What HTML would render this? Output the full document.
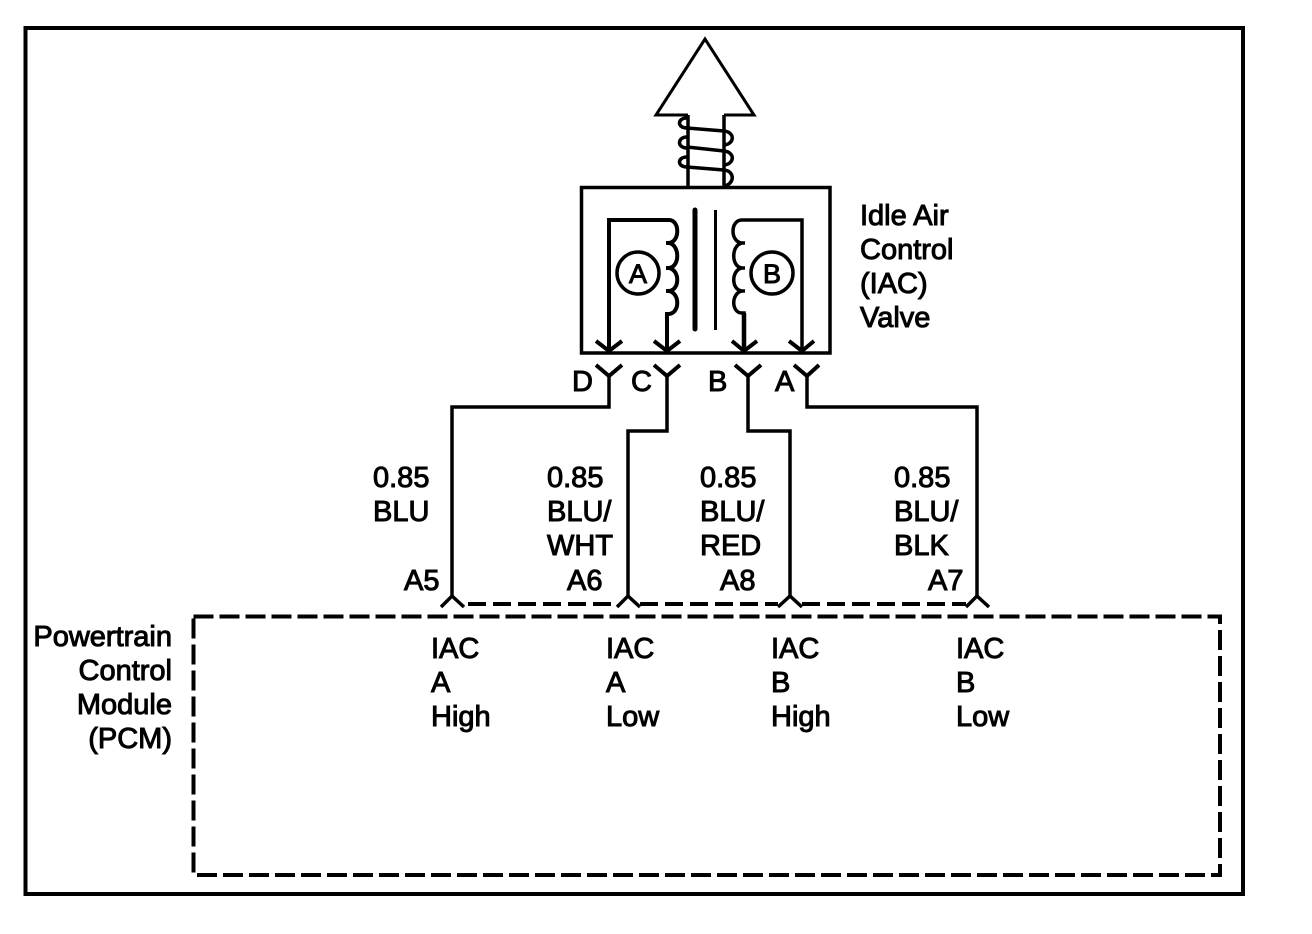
<!DOCTYPE html>
<html><head><meta charset="utf-8"><style>
html,body{margin:0;padding:0;background:#fff;width:1312px;height:934px;overflow:hidden}
svg{display:block}
text{font-family:"Liberation Sans",sans-serif;font-size:29px;fill:#000;stroke:#000;stroke-width:1px}
.e{text-anchor:end}
</style></head><body>
<svg width="1312" height="934" viewBox="0 0 1312 934" xmlns="http://www.w3.org/2000/svg">
<g fill="none" stroke="#000" stroke-width="3">
<rect x="25.5" y="28" width="1217.5" height="866" stroke-width="4"/>
<!-- plunger -->
<path d="M688 115H656L705 39L754 115H724" stroke-width="3"/>
<path d="M688 115V187M724 115V187" stroke-width="3.500"/>
<g stroke-width="3.500">
<path d="M687 118c-10 0-10 10 0 10M687 137c-10 0-10 11 0 11M687 157c-10 0-10 10 0 10"/>
<path d="M687 128L724 131c11 1 11 13 0 14M687 147L724 151c11 1 11 13 0 14M687 167L724 170c11 1 11 14 0 16"/>
</g>
<!-- box -->
<rect x="581.5" y="187.5" width="248.5" height="165.5" stroke-width="3.500"/>
<!-- left coil -->
<path d="M609 353V220H669c11 0 11 22 0 23H666M669 243c11 2 11 24 0 25H666M669 268c11 2 11 22 0 23H666M669 291c11 2 11 22 0 23H667V353" stroke-width="4"/>
<!-- right coil -->
<path d="M802 353V220H742c-12 0-12 22 0 23h3M742 243c-11 2-11 24 0 25h3M742 268c-11 2-11 22 0 23h3M742 291c-11 2-11 22 0 22h2V353" stroke-width="3.500"/>
<path d="M744 313V353" stroke-width="4.500"/>
<path d="M695 210V329" stroke-width="5" stroke-linecap="round"/>
<path d="M715.500 210V330" stroke-width="3"/>
<circle cx="638" cy="273" r="21" stroke-width="3.500"/>
<circle cx="772" cy="273" r="21" stroke-width="3.500"/>
<!-- arrow heads in box -->
<g stroke-width="4">
<path d="M596 341L609 351L622 341"/>
<path d="M654 341L667 351L680 341"/>
<path d="M732 341L744 351L757 341"/>
<path d="M789 341L802 351L814 341"/>
<!-- connector Ys -->
<path d="M596 365L609 376L622 365"/>
<path d="M654 365L667 376L680 365"/>
<path d="M735 365L748 376L761 365"/>
<path d="M794 365L807 376L819 365"/>
</g>
<!-- wires -->
<path d="M609 376V407H452V596" stroke-width="3.500"/>
<path d="M667 376V431H628V596" stroke-width="3.500"/>
<path d="M748 376V431H790V596" stroke-width="3.500"/>
<path d="M807 376V407H977V596" stroke-width="3.500"/>
<!-- lower forks -->
<g stroke-width="3.500">
<path d="M441 607L452 596L464 607"/>
<path d="M617 607L628 596L640 607"/>
<path d="M778 607L790 596L802 607"/>
<path d="M966 607L977 596L989 607"/>
</g>
<!-- connector dashes -->
<path d="M468 604H617M640 604H778M802 604H966" stroke-width="4" stroke-dasharray="18 7"/>
<!-- PCM box -->
<rect x="193.500" y="616.500" width="1026.500" height="258.500" stroke-width="4" stroke-dasharray="20 6"/>
</g>
<text x="860" y="225">Idle Air</text>
<text x="860" y="259">Control</text>
<text x="860" y="293">(IAC)</text>
<text x="860" y="327">Valve</text>
<text x="629" y="283" style="font-size:27px">A</text>
<text x="763" y="283" style="font-size:27px">B</text>
<text x="572" y="391">D</text>
<text x="631" y="391">C</text>
<text x="708" y="391">B</text>
<text x="775" y="391">A</text>
<text x="373" y="487">0.85</text>
<text x="373" y="521">BLU</text>
<text x="547" y="487">0.85</text>
<text x="547" y="521">BLU/</text>
<text x="547" y="555">WHT</text>
<text x="700" y="487">0.85</text>
<text x="700" y="521">BLU/</text>
<text x="700" y="555">RED</text>
<text x="894" y="487">0.85</text>
<text x="894" y="521">BLU/</text>
<text x="894" y="555">BLK</text>
<text x="404" y="590">A5</text>
<text x="567" y="590">A6</text>
<text x="720" y="590">A8</text>
<text x="928" y="590">A7</text>
<text class="e" x="172" y="646">Powertrain</text>
<text class="e" x="172" y="680">Control</text>
<text class="e" x="172" y="714">Module</text>
<text class="e" x="172" y="748">(PCM)</text>
<text x="431" y="658">IAC</text><text x="431" y="692">A</text><text x="431" y="726">High</text>
<text x="606" y="658">IAC</text><text x="606" y="692">A</text><text x="606" y="726">Low</text>
<text x="771" y="658">IAC</text><text x="771" y="692">B</text><text x="771" y="726">High</text>
<text x="956" y="658">IAC</text><text x="956" y="692">B</text><text x="956" y="726">Low</text>
</svg>
</body></html>
